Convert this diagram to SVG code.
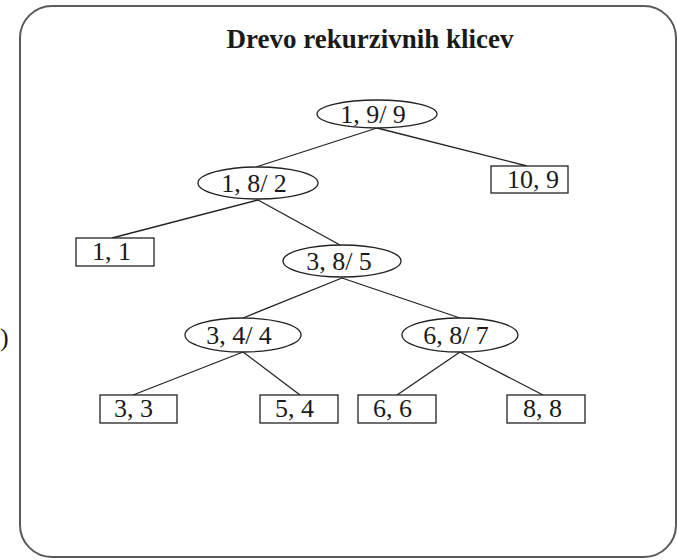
<svg xmlns="http://www.w3.org/2000/svg" width="677" height="560" viewBox="0 0 677 560">
  <style>
    .frame { fill: #ffffff; stroke: #5a5a5a; stroke-width: 2; }
    .node { fill: #ffffff; stroke: #222222; stroke-width: 1.3; }
    .edge { stroke: #222222; stroke-width: 1.3; fill: none; }
    text { font-family: 'Liberation Serif', 'DejaVu Serif', serif; fill: #1a1a1a; }
    .lbl { font-size: 26px; }
    .mid { text-anchor: middle; }
    .title { font-size: 27px; font-weight: bold; text-anchor: middle; }
  </style>

  <rect width="677" height="560" fill="#ffffff"/>
  <text class="lbl" x="0" y="346">)</text>
  <rect class="frame" x="20" y="6" width="656" height="551" rx="32" ry="32"/>
  <text class="title" x="370" y="48">Drevo rekurzivnih klicev</text>

  <g id="connectors">
    <line class="edge" x1="377" y1="128" x2="256" y2="167"/>
    <line class="edge" x1="377" y1="128" x2="527" y2="166"/>
    <line class="edge" x1="258" y1="200" x2="112" y2="238"/>
    <line class="edge" x1="258" y1="200" x2="340" y2="245"/>
    <line class="edge" x1="342" y1="278" x2="243" y2="318"/>
    <line class="edge" x1="342" y1="278" x2="460" y2="318"/>
    <line class="edge" x1="243" y1="352" x2="133" y2="395"/>
    <line class="edge" x1="243" y1="352" x2="300" y2="395"/>
    <line class="edge" x1="460" y1="352" x2="397" y2="395"/>
    <line class="edge" x1="460" y1="352" x2="543" y2="395"/>
  </g>

  <g id="n-1-9-9">
    <ellipse class="node" cx="377" cy="114" rx="60" ry="14"/>
    <text class="lbl mid" x="373" y="123">1, 9/ 9</text>
  </g>
  <g id="n-1-8-2">
    <ellipse class="node" cx="258" cy="183" rx="60" ry="16"/>
    <text class="lbl mid" x="254" y="192">1, 8/ 2</text>
  </g>
  <g id="n-10-9">
    <rect class="node" x="491" y="166" width="77" height="27"/>
    <text class="lbl" x="507" y="188">10, 9</text>
  </g>
  <g id="n-1-1">
    <rect class="node" x="76" y="238" width="78" height="28"/>
    <text class="lbl" x="92" y="260">1, 1</text>
  </g>
  <g id="n-3-8-5">
    <ellipse class="node" cx="342" cy="261" rx="59" ry="16"/>
    <text class="lbl mid" x="339" y="270">3, 8/ 5</text>
  </g>
  <g id="n-3-4-4">
    <ellipse class="node" cx="243" cy="335" rx="58" ry="17"/>
    <text class="lbl mid" x="239" y="344">3, 4/ 4</text>
  </g>
  <g id="n-6-8-7">
    <ellipse class="node" cx="460" cy="335" rx="58" ry="17"/>
    <text class="lbl mid" x="456" y="344">6, 8/ 7</text>
  </g>
  <g id="n-3-3">
    <rect class="node" x="100" y="395" width="77" height="28"/>
    <text class="lbl" x="114" y="417">3, 3</text>
  </g>
  <g id="n-5-4">
    <rect class="node" x="260" y="395" width="78" height="28"/>
    <text class="lbl" x="275" y="417">5, 4</text>
  </g>
  <g id="n-6-6">
    <rect class="node" x="358" y="395" width="78" height="28"/>
    <text class="lbl" x="373" y="417">6, 6</text>
  </g>
  <g id="n-8-8">
    <rect class="node" x="507" y="395" width="78" height="28"/>
    <text class="lbl" x="523" y="417">8, 8</text>
  </g>
</svg>
